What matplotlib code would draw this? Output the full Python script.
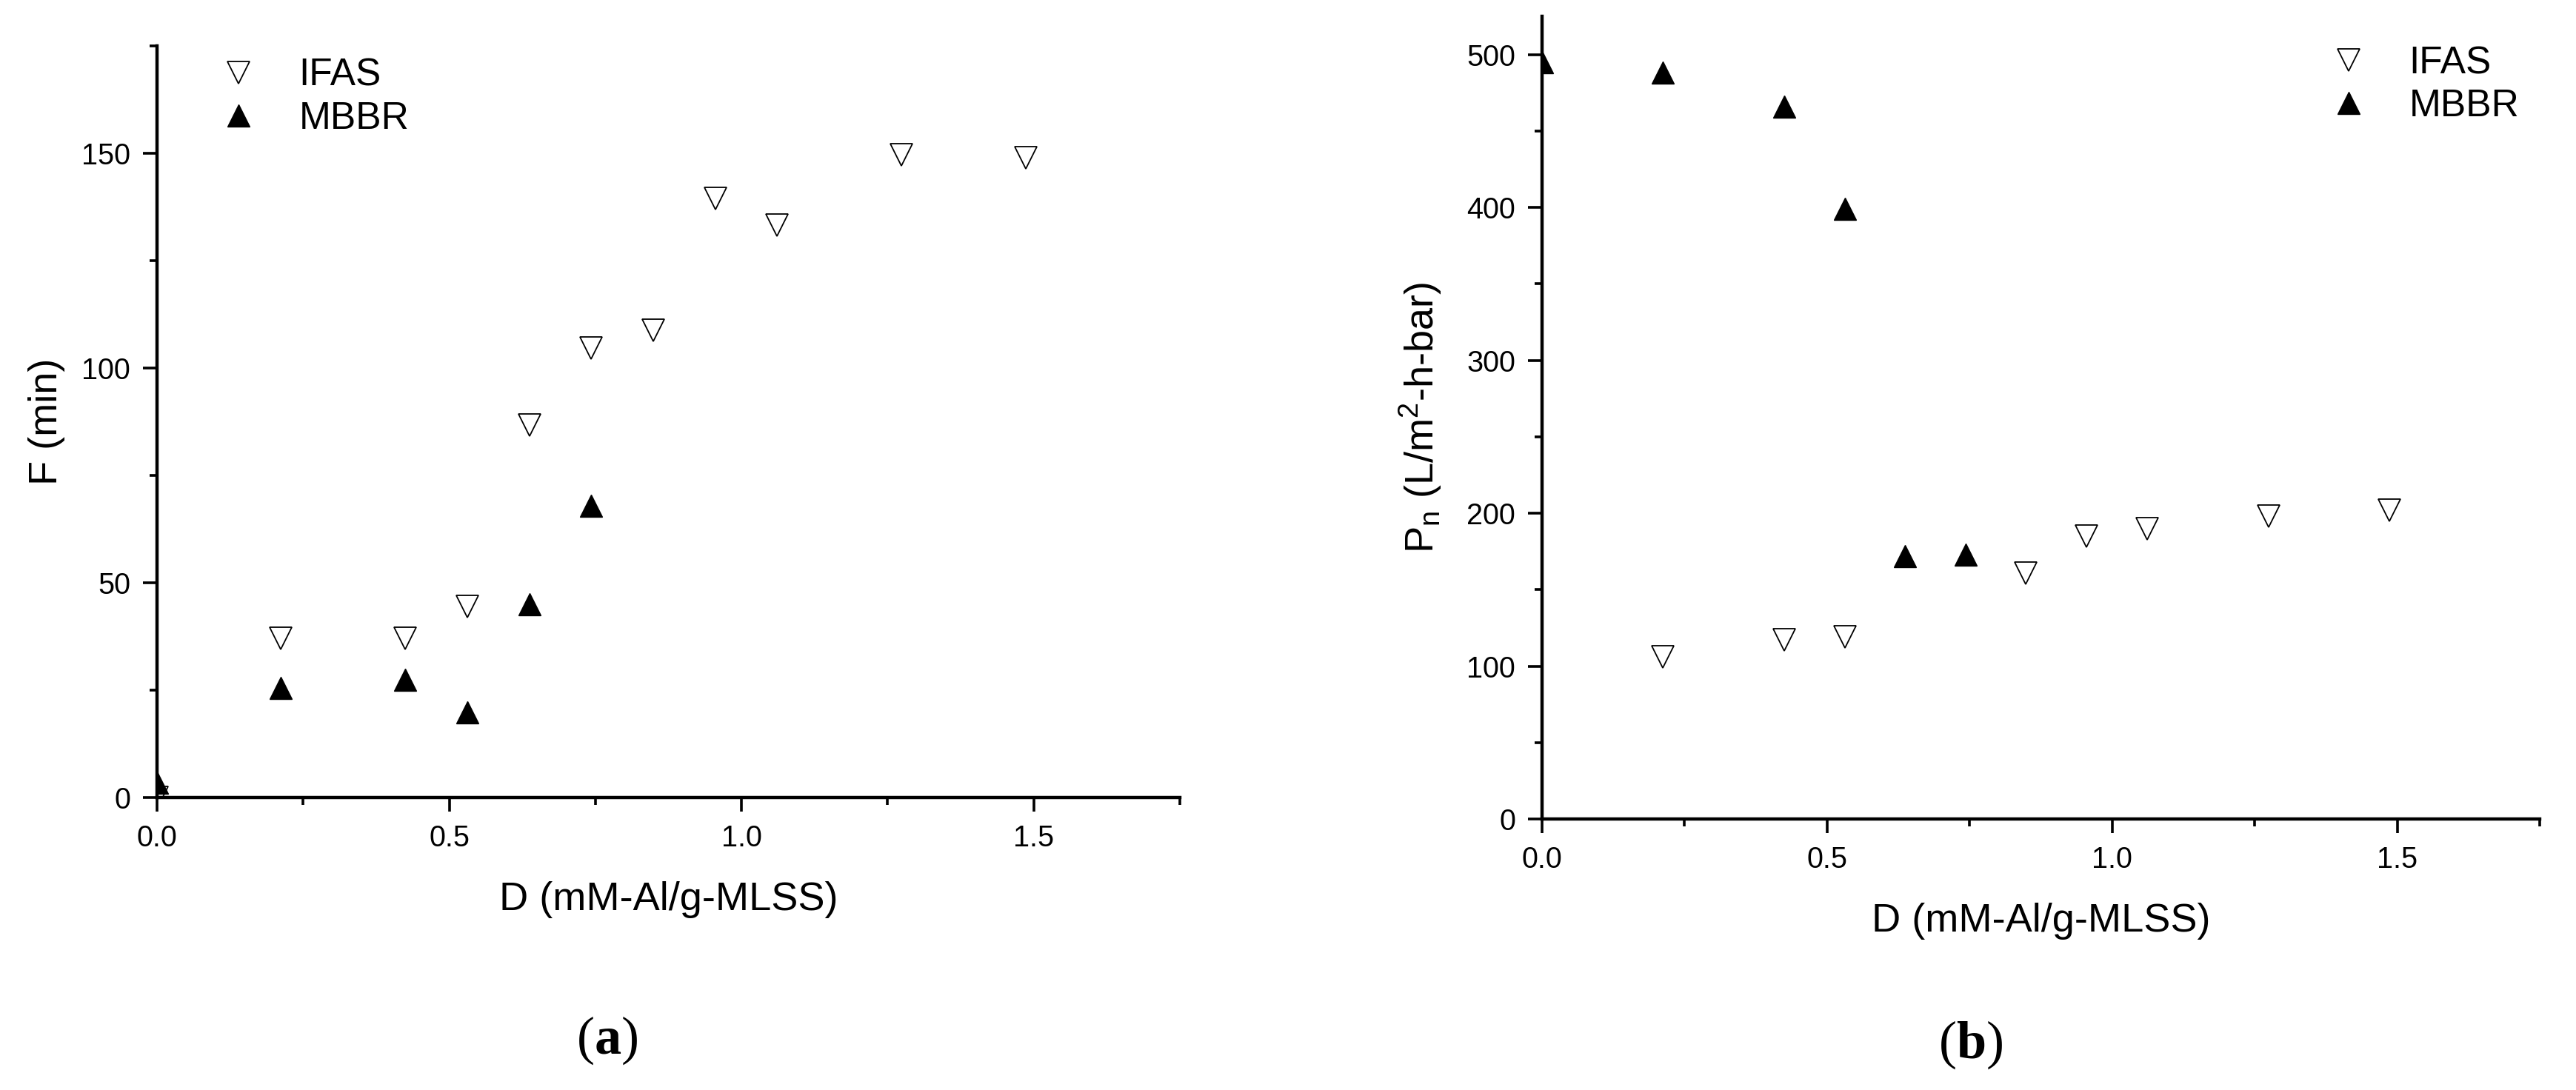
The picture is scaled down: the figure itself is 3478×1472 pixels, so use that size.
import numpy as np
import matplotlib
matplotlib.use("Agg")
from matplotlib import pyplot as plt
from matplotlib.ticker import MultipleLocator

plt.rcParams['font.family'] = ['Liberation Sans', 'DejaVu Sans']
plt.rcParams['mathtext.fontset'] = 'custom'
plt.rcParams['mathtext.rm'] = 'Liberation Serif'
plt.rcParams['mathtext.bf'] = 'Liberation Serif:bold'

# panel (a): F (min) vs dose
d_ifas_a = [0.0, 0.212, 0.425, 0.531, 0.637, 0.743, 0.849, 0.955, 1.061, 1.274, 1.486]
f_ifas = [0.0, 37.1, 37.0, 44.4, 86.7, 104.6, 108.8, 139.4, 133.3, 149.7, 149.0]
d_mbbr_a = [0.0, 0.212, 0.425, 0.531, 0.637, 0.743]
f_mbbr = [3.4, 25.6, 27.5, 19.9, 45.0, 67.9]

# panel (b): Pn vs dose
d_ifas_b = [0.212, 0.425, 0.531, 0.849, 0.955, 1.061, 1.274, 1.486]
pn_ifas = [106, 117, 119, 161, 185, 190, 198, 202]
d_mbbr_b = [0.0, 0.212, 0.425, 0.531, 0.637, 0.743]
pn_mbbr = [495, 488, 466, 399, 172, 173]

series_labels = ['IFAS', 'MBBR']
xlab = 'D (mM-Al/g-MLSS)'
ylab_a = 'F (min)'
ylab_b = r'P$_\mathregular{n}$ (L/m$^\mathregular{2}$-h-bar)'

W, H = 3478, 1472
fig = plt.figure(figsize=(W / 100, H / 100), dpi=100)

ax1 = fig.add_axes([212 / W, 1 - 1077 / H, (1593 - 212) / W, (1077 - 62) / H])
ax2 = fig.add_axes([2082 / W, 1 - 1106 / H, (3429 - 2082) / W, (1106 - 22) / H])

ms = 21
for ax, xi, yi, xm, ym in [(ax1, d_ifas_a, f_ifas, d_mbbr_a, f_mbbr),
                           (ax2, d_ifas_b, pn_ifas, d_mbbr_b, pn_mbbr)]:
    ax.plot(xi, yi, ls='none', marker='v', ms=ms, mfc='white', mec='black', mew=1.3,
            label=series_labels[0])
    ax.plot(xm, ym, ls='none', marker='^', ms=ms, mfc='black', mec='black', mew=1.0,
            label=series_labels[1])
    ax.set_xlim(0, 1.75)
    ax.xaxis.set_major_locator(MultipleLocator(0.5))
    ax.xaxis.set_minor_locator(MultipleLocator(0.25))
    ax.spines['top'].set_visible(False)
    ax.spines['right'].set_visible(False)
    for s in ['left', 'bottom']:
        ax.spines[s].set_linewidth(3.2)
    ax.tick_params(which='major', length=14, width=2.6, labelsize=28.5, pad=12)
    ax.tick_params(which='minor', length=7, width=2.6)
    ax.set_xlabel(xlab, fontsize=39, labelpad=28)

ax1.set_ylim(0, 175)
ax1.yaxis.set_major_locator(MultipleLocator(50))
ax1.yaxis.set_minor_locator(MultipleLocator(25))
ax1.set_ylabel(ylab_a, fontsize=39, labelpad=16)

ax2.set_ylim(0, 525)
ax2.yaxis.set_major_locator(MultipleLocator(100))
ax2.yaxis.set_minor_locator(MultipleLocator(50))
ax2.set_ylabel(ylab_b, fontsize=39, labelpad=22)

leg_kw = dict(frameon=False, fontsize=37, handlelength=0.6, handletextpad=1.28,
              labelspacing=0.17, borderpad=0, borderaxespad=0, loc='upper left',
              bbox_transform=fig.transFigure)
ax1.legend(bbox_to_anchor=(307 / W, 1 - 78 / H), **leg_kw)
ax2.legend(bbox_to_anchor=(3156 / W, 1 - 61 / H), **leg_kw)

fig.text(820 / W, 1 - 1405 / H, r'($\mathbf{a}$)', fontsize=52, family='Liberation Serif',
         ha='center', va='center')
fig.text(2661 / W, 1 - 1411 / H, r'($\mathbf{b}$)', fontsize=52, family='Liberation Serif',
         ha='center', va='center')

fig.savefig('out.png', dpi=100)
